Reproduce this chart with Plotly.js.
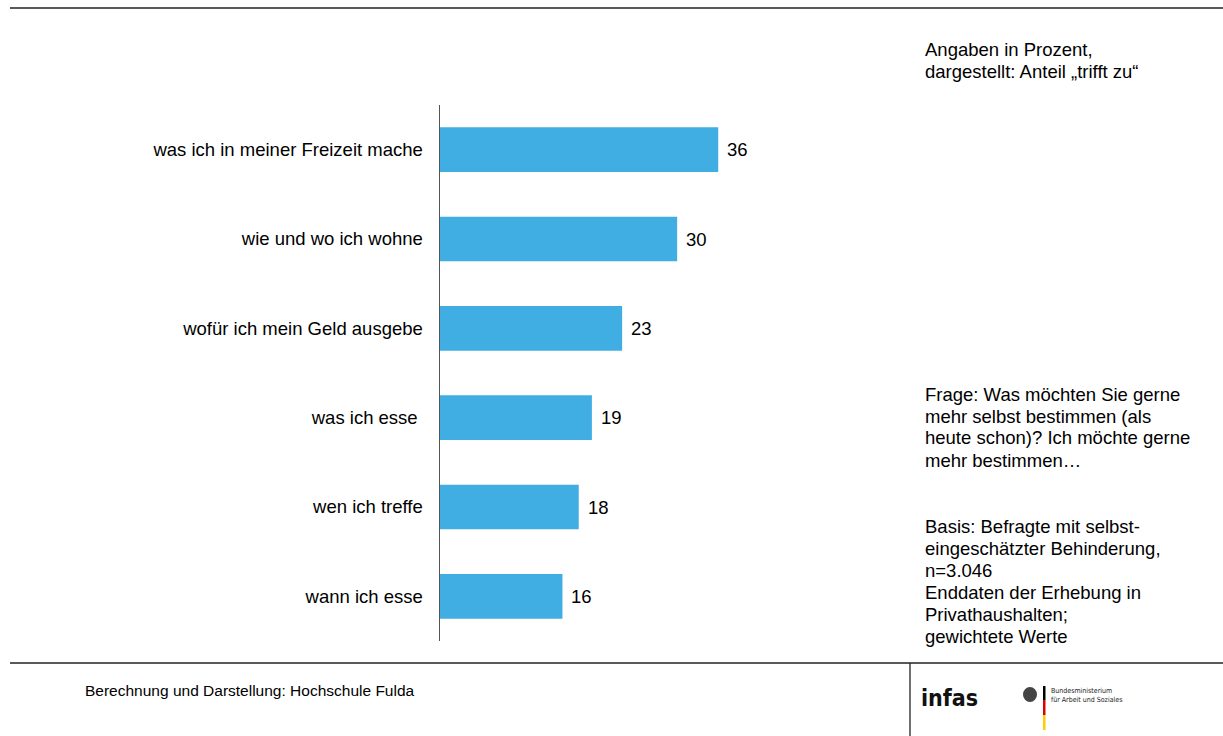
<!DOCTYPE html>
<html>
<head>
<meta charset="utf-8">
<script src="https://cdn.plot.ly/plotly-3.0.1.min.js"></script>
<style>html,body{margin:0;padding:0;background:#fff;}#chart{width:1223px;height:736px;}</style>
</head>
<body>
<div id="chart"></div>
<script>
// Data
const categories = [
  "was ich in meiner Freizeit mache",
  "wie und wo ich wohne",
  "wofür ich mein Geld ausgebe",
  "was ich esse\u00a0",
  "wen ich treffe",
  "wann ich esse"
];
const values = [35.9, 30.6, 23.5, 19.6, 17.9, 15.8];
const valueLabels = ["36", "30", "23", "19", "18", "16"];

const noteTopLines = ["Angaben in Prozent,", "dargestellt: Anteil „trifft zu“"];
const noteQuestionLines = ["Frage: Was möchten Sie gerne", "mehr selbst bestimmen (als", "heute schon)? Ich möchte gerne", "mehr bestimmen…"];
const noteBasisLines = ["Basis: Befragte mit selbst-", "eingeschätzter Behinderung,", "n=3.046", "Enddaten der Erhebung in", "Privathaushalten;", "gewichtete Werte"];
const footerText = "Berechnung und Darstellung: Hochschule Fulda";

// Layout geometry (pixels)
const W = 1223, H = 736;
const L = 440, T = 105, PW = 460, PH = 536;
const px = x => (x - L) / PW;
const py = y => (T + PH - y) / PH;
const FONT = "Liberation Sans, Arial, sans-serif";
const TXT = 18.5;

const trace = {
  type: "bar",
  orientation: "h",
  y: categories,
  x: values,
  marker: {color: "#40AEE3"},
  width: 0.5,
  hoverinfo: "skip"
};

const annotations = values.map((v, i) => ({
  x: v, y: categories[i], xref: "x", yref: "y",
  text: valueLabels[i], showarrow: false,
  xanchor: "left", yanchor: "middle", xshift: 7,
  font: {family: FONT, size: TXT, color: "#000"}
}));

function addLines(lines, yFirst, step) {
  lines.forEach((t, i) => annotations.push({
    xref: "paper", yref: "paper", x: px(923), y: py(yFirst + i * step),
    xanchor: "left", yanchor: "middle", align: "left", text: t, showarrow: false,
    font: {family: FONT, size: TXT, color: "#000"}
  }));
}
addLines(noteTopLines, 50, 21);
addLines(noteQuestionLines, 394, 22);
addLines(noteBasisLines, 526, 22);

annotations.push(
  {xref: "paper", yref: "paper", x: px(83), y: py(690), xanchor: "left", yanchor: "middle", align: "left",
   text: footerText, showarrow: false, font: {family: FONT, size: 15.5, color: "#000"}},
  {xref: "paper", yref: "paper", x: px(919), y: py(698), xanchor: "left", yanchor: "middle",
   text: "<b>infas</b>", showarrow: false, font: {family: "DejaVu Sans Condensed, DejaVu Sans, sans-serif", size: 23, color: "#111"}},
  {xref: "paper", yref: "paper", x: px(1049), y: py(695), xanchor: "left", yanchor: "middle", align: "left",
   text: "Bundesministerium<br>für Arbeit und Soziales", showarrow: false,
   font: {family: "DejaVu Sans Condensed, DejaVu Sans, sans-serif", size: 7, color: "#222"}}
);

const lineStyle = {color: "#222", width: 1.3};
const shapes = [
  {type: "line", xref: "paper", yref: "paper", x0: px(10), x1: px(1223), y0: py(8), y1: py(8), line: lineStyle},
  {type: "line", xref: "paper", yref: "paper", x0: px(10), x1: px(1223), y0: py(663), y1: py(663), line: lineStyle},
  {type: "line", xref: "paper", yref: "paper", x0: px(910), x1: px(910), y0: py(663), y1: py(736), line: lineStyle},
  // flag
  {type: "rect", xref: "paper", yref: "paper", x0: px(1043), x1: px(1045.5), y0: py(686), y1: py(700), fillcolor: "#000", line: {width: 0}},
  {type: "rect", xref: "paper", yref: "paper", x0: px(1043), x1: px(1045.5), y0: py(700), y1: py(715), fillcolor: "#DD0000", line: {width: 0}},
  {type: "rect", xref: "paper", yref: "paper", x0: px(1043), x1: px(1045.5), y0: py(715), y1: py(730), fillcolor: "#FFCE00", line: {width: 0}},
  // eagle (simplified)
  {type: "circle", xref: "paper", yref: "paper", x0: px(1023), x1: px(1037), y0: py(687), y1: py(702), fillcolor: "#444", line: {width: 0}}
];

const layout = {
  width: W, height: H,
  margin: {l: L, r: W - L - PW, t: T, b: H - T - PH, pad: 0},
  paper_bgcolor: "#fff", plot_bgcolor: "#fff",
  showlegend: false,
  bargap: 0.5,
  xaxis: {range: [0, PW / 7.75], visible: false, fixedrange: true},
  yaxis: {
    autorange: "reversed", showline: true, linecolor: "#555", linewidth: 1.5,
    ticks: "", showgrid: false, zeroline: false, ticklabelstandoff: 12,
    tickfont: {family: FONT, size: TXT, color: "#000"}, fixedrange: true
  },
  annotations: annotations,
  shapes: shapes
};

Plotly.newPlot("chart", [trace], layout, {displayModeBar: false, staticPlot: true});
</script>
</body>
</html>
